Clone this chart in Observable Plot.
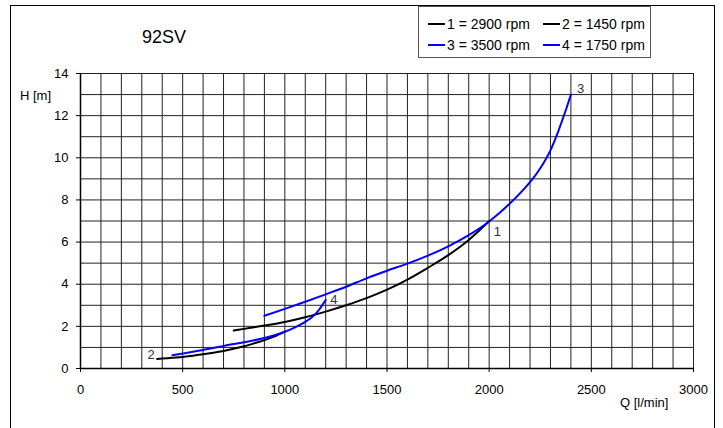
<!DOCTYPE html>
<html>
<head>
<meta charset="utf-8">
<script src="https://cdn.jsdelivr.net/npm/d3@7"></script>
<script src="https://cdn.jsdelivr.net/npm/@observablehq/plot@0.6"></script>
<style>
  html, body { margin: 0; padding: 0; background: #fff; }
  body { font-family: "Liberation Sans", Arial, sans-serif; }
  #wrap { position: relative; width: 723px; height: 428px; overflow: hidden; }
  #frame { position: absolute; left: 10px; top: 5px; width: 705px; height: 440px; border: 1px solid #000; box-sizing: border-box; }
  #chart { position: absolute; left: 0; top: 0; }
  .txt { position: absolute; color: #000; white-space: nowrap; line-height: 1; }
  #legend { position: absolute; left: 418px; top: 6px; width: 233px; height: 52px; border: 1px solid #555; box-sizing: border-box; background: #fff; font-size: 14px; }
  .item { position: absolute; display: flex; align-items: center; }
  .sw { display: inline-block; width: 17px; height: 2px; margin-right: 2px; }
</style>
</head>
<body>
<div id="wrap">
  <div id="frame"></div>
  <div id="chart"></div>
  <div class="txt" style="left:142px; top:28px; font-size:18px;">92SV</div>
  <div class="txt" style="left:20px; top:89px; font-size:13px;">H [m]</div>
  <div class="txt" style="left:620px; top:396px; font-size:13px;">Q [l/min]</div>
  <div id="legend"></div>
</div>
<script>
// Curve 1: 2900 rpm (black)
const q1 = [750, 800, 900, 1000, 1100, 1200, 1300, 1400, 1500, 1600, 1700, 1800, 1900, 2000];
const h1 = [1.8, 1.88, 2.04, 2.21, 2.43, 2.7, 3.0, 3.34, 3.74, 4.22, 4.78, 5.38, 6.1, 7.0];
// Curve 2: 1450 rpm (black)
const q2 = [375, 400, 450, 500, 550, 600, 650, 700, 750, 800, 850, 900, 950, 1000];
const h2 = [0.45, 0.47, 0.51, 0.55, 0.61, 0.675, 0.75, 0.835, 0.935, 1.055, 1.195, 1.345, 1.525, 1.75];
// Curve 3: 3500 rpm (blue)
const q3 = [900, 1000, 1100, 1200, 1300, 1400, 1500, 1600, 1700, 1800, 1900, 2000, 2100, 2200, 2225, 2250, 2275, 2300, 2320, 2340, 2360, 2380, 2400];
const h3 = [2.5, 2.83, 3.17, 3.52, 3.88, 4.28, 4.64, 4.98, 5.36, 5.8, 6.33, 6.98, 7.82, 8.85, 9.15, 9.5, 9.9, 10.35, 10.8, 11.3, 11.85, 12.4, 13.0];
// Curve 4: 1750 rpm (blue)
const q4 = [450, 500, 550, 600, 650, 700, 750, 800, 850, 900, 950, 1000, 1050, 1100, 1112, 1125, 1138, 1150, 1160, 1170, 1180, 1190, 1200];
const h4 = [0.625, 0.71, 0.79, 0.88, 0.97, 1.07, 1.16, 1.245, 1.34, 1.45, 1.58, 1.745, 1.955, 2.21, 2.29, 2.375, 2.475, 2.59, 2.7, 2.825, 2.96, 3.1, 3.25];

const curveNames = ["1 = 2900 rpm", "2 = 1450 rpm", "3 = 3500 rpm", "4 = 1750 rpm"];
const curveColors = ["#000000", "#000000", "#0000ff", "#0000ff"];

// curve number labels
const labelText = ["1", "2", "3", "4"];
const labelQ = [2040, 346, 2447, 1240];
const labelH = [6.5, 0.66, 13.25, 3.24];

const xTicks = [0, 500, 1000, 1500, 2000, 2500, 3000];
const yTicks = [0, 2, 4, 6, 8, 10, 12, 14];
const xGrid = d3.range(0, 3001, 100);
const yGrid = d3.range(0, 15, 1);

const series = [[q1, h1], [q2, h2], [q3, h3], [q4, h4]].map(([q, h], i) =>
  q.map((v, j) => ({Q: v, H: h[j], name: curveNames[i]})));

const lines = series.map((d, i) => Plot.line(d, {x: "Q", y: "H", stroke: curveColors[i], strokeWidth: 2, curve: "monotone-x"}));

const labels = labelText.map((t, i) => ({t, Q: labelQ[i], H: labelH[i]}));

const chart = Plot.plot({
  width: 723, height: 428,
  marginLeft: 80, marginRight: 30, marginTop: 73, marginBottom: 60,
  style: {fontFamily: "'Liberation Sans', Arial, sans-serif", fontSize: "13px", color: "#000", background: "transparent", overflow: "visible"},
  x: {domain: [0, 3000]},
  y: {domain: [0, 14]},
  marks: [
    Plot.ruleX(xGrid, {stroke: "#222", strokeWidth: 1}),
    Plot.ruleY(yGrid, {stroke: "#222", strokeWidth: 1}),
    Plot.axisX({ticks: xTicks, tickFormat: d => String(d), tickSize: 4, tickPadding: 12, label: null, stroke: "#000", fill: "#000", fontSize: 13}),
    Plot.axisY({ticks: yTicks, tickFormat: d => String(d), tickSize: 4, tickPadding: 8, label: null, stroke: "#000", fill: "#000", fontSize: 13}),
    Plot.ruleY([0], {stroke: "#000", strokeWidth: 1.5}),
    Plot.ruleX([0], {stroke: "#000", strokeWidth: 1.5}),
    ...lines,
    Plot.text(labels, {x: "Q", y: "H", text: "t", fill: "#333", fontSize: 13, textAnchor: "middle"})
  ]
});
document.getElementById("chart").appendChild(chart);

// legend
const legend = document.getElementById("legend");
const pos = [[9, 9], [124, 9], [9, 30], [124, 30]];
curveNames.forEach((n, i) => {
  const it = document.createElement("div");
  it.className = "item";
  it.style.left = pos[i][0] + "px";
  it.style.top = pos[i][1] + "px";
  it.innerHTML = `<span class="sw" style="background:${curveColors[i]}"></span><span>${n}</span>`;
  legend.appendChild(it);
});
</script>
</body>
</html>
